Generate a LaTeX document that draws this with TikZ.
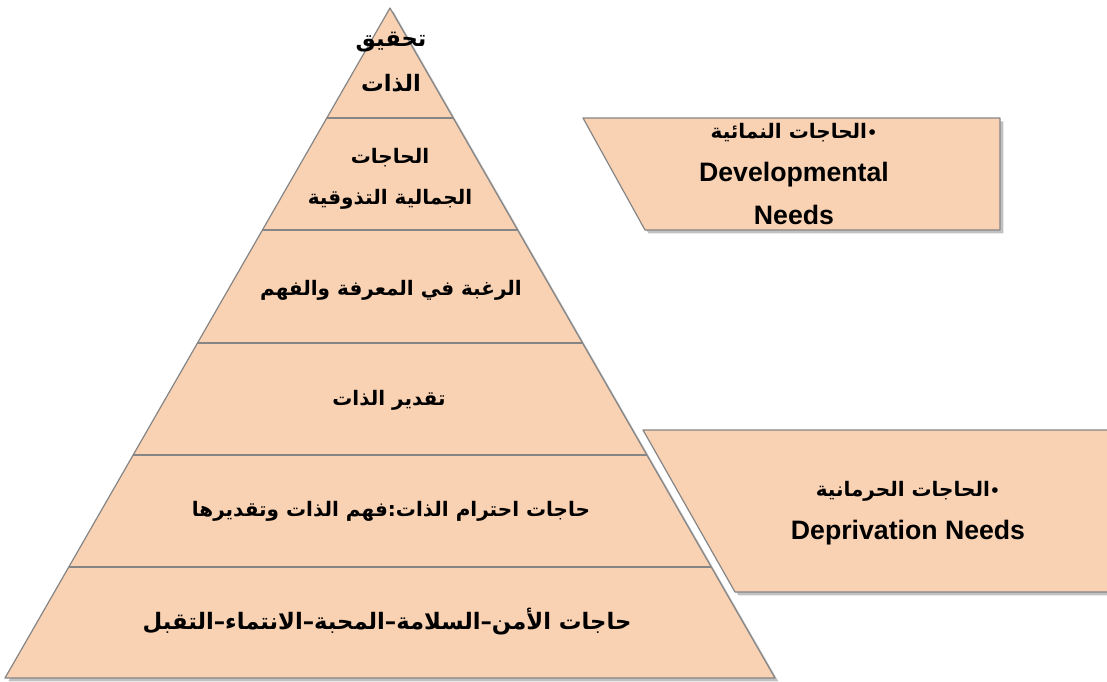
\documentclass[tikz,border=0pt]{standalone}
\usepackage{fontspec}
\setmainfont{Liberation Sans}
\newfontfamily\arabicfont[Script=Arabic]{DejaVu Sans}
\TeXXeTstate=1
\usepackage{tikz}
\usetikzlibrary{calc,
                positioning,
                shadows}

\definecolor{peach}{HTML}{F9D2B3}
\definecolor{rim}{HTML}{858585}

\newcommand{\dotmark}{{\fontsize{12}{12}\selectfont •}}

\tikzset{
  block/.style={fill=peach, draw=rim, line width=0.9pt, line join=round,
                drop shadow={shadow xshift=2.5pt, shadow yshift=-2.5pt,
                             opacity=0.35, fill=black!70}},
  rule/.style={draw=rim, line width=0.9pt},
  ar/.style={font=\arabicfont\bfseries\fontsize{15}{31}\selectfont, align=center},
  en/.style={font=\bfseries\fontsize{20}{32}\selectfont, align=center}
}

\begin{document}
\begin{tikzpicture}[x=0.75pt, y=-0.75pt]
\useasboundingbox (0,0) rectangle (1107,682);

% pyramid
\coordinate (apex) at (390,8);
\coordinate (bl) at (5,678);
\coordinate (br) at (775,678);
\draw[block] (apex) -- (br) -- (bl) -- cycle;

% layer lines
\foreach \y in {118,230,343,455,567}
  \draw[rule] ($(apex)!{(\y-8)/670}!(bl)$) -- ($(apex)!{(\y-8)/670}!(br)$);

% side boxes
\draw[block] (583,118) -- (1000,118) -- (1000,230) -- (645,230) -- cycle;
\draw[block] (643,430) -- (1112,430) -- (1112,592) -- (735,592) -- cycle;

% layer texts
\node[ar, font=\arabicfont\bfseries\fontsize{17}{34}\selectfont]
  (top) at (391,62) {\beginR تحقيق\endR\\\beginR الذات\endR};
\node[ar] (beauty) at (390,179) {\beginR الحاجات\endR\\\beginR الجمالية التذوقية\endR};
\node[ar] (know) at (391,290) {\beginR الرغبة في المعرفة والفهم\endR};
\node[ar] (esteem) at (389,400) {\beginR تقدير الذات\endR};
\node[ar] (respect) at (391,511) {\beginR حاجات احترام الذات:فهم الذات وتقديرها\endR};
\node[ar, font=\arabicfont\bfseries\fontsize{17}{31}\selectfont]
  (safety) at (387,622) {\beginR حاجات الأمن–السلامة–المحبة–الانتماء–التقبل\endR};

% side box texts
\node[en, font=\bfseries\fontsize{20}{32}\selectfont] (devel) at (794,174)
  {{\arabicfont\fontsize{15}{15}\selectfont\beginR\dotmark الحاجات النمائية\endR}\\Developmental\\Needs};
\node[en] (depriv) at (908,513)
  {{\arabicfont\fontsize{15}{15}\selectfont\beginR\dotmark الحاجات الحرمانية\endR}\\Deprivation Needs};
\end{tikzpicture}
\end{document}
